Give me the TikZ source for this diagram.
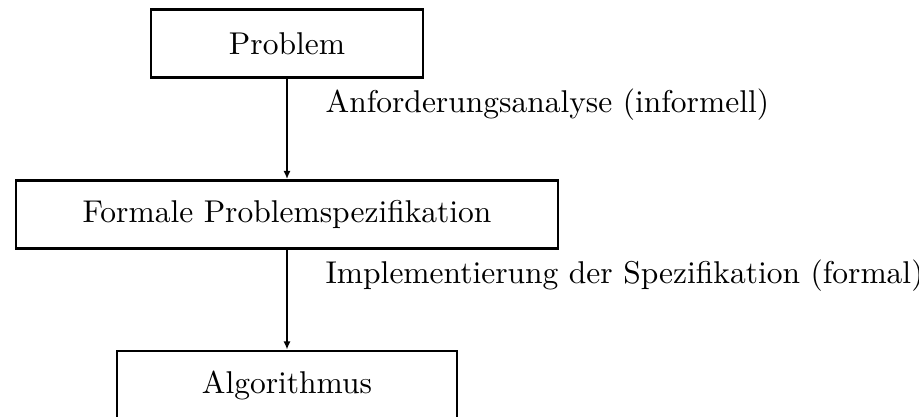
\documentclass[tikz,border=0pt]{standalone}
\usetikzlibrary{arrows.meta}
\begin{document}
% one drawing unit
\def\pxu{0.3175pt}
\begin{tikzpicture}[x=\pxu,y=-\pxu,
  box/.style={draw,line width=0.85pt,inner sep=0pt,minimum height=68*\pxu},
  flow/.style={line width=0.6pt,-{Latex[length=2.6pt,width=2.2pt]}},
  note/.style={anchor=base west,inner sep=0pt}]
\useasboundingbox (0,0) rectangle (919,416);
\clip (0,0) rectangle (919,416);
% stages
\node[box,minimum width=272*\pxu] (problem) at (287,43.5) {Problem};
\node[box,minimum width=542*\pxu] (spec) at (287,214.5) {Formale Problemspezifikation};
\node[box,minimum width=340*\pxu] (algo) at (287,385) {Algorithmus};
% transitions
\draw[flow] (problem.south) -- (spec.north);
\draw[flow] (spec.south) -- (algo.north);
\node[note] (l1) at (325,112) {Anforderungsanalyse (informell)};
\node[note] (l2) at (325,283) {Implementierung der Spezifikation (formal)};
\end{tikzpicture}
\end{document}
